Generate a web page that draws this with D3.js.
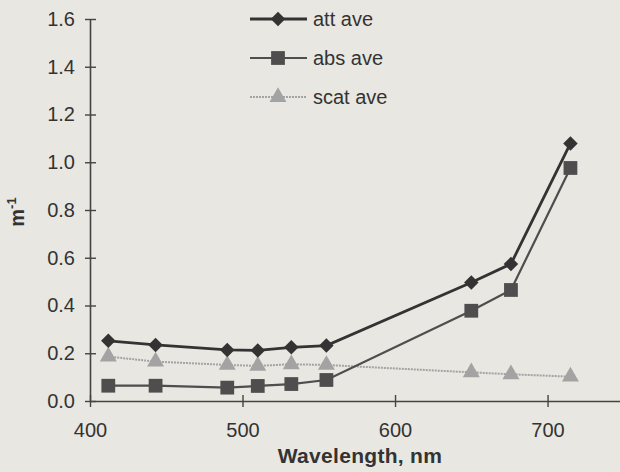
<!DOCTYPE html>
<html>
<head>
<meta charset="utf-8">
<script src="https://cdn.jsdelivr.net/npm/d3@7"></script>
<style>
  body { margin: 0; background: #e9e7e1; }
  svg { display: block; font-family: "Liberation Sans", Arial, sans-serif; }
</style>
</head>
<body>
<svg width="620" height="472"></svg>
<script>
// data
const wavelengths = [412, 443, 490, 510, 532, 555, 650, 676, 715];
const attAve  = [0.252, 0.235, 0.214, 0.212, 0.225, 0.232, 0.496, 0.574, 1.079];
const absAve  = [0.064, 0.064, 0.056, 0.063, 0.071, 0.088, 0.378, 0.465, 0.976];
const scatAve = [0.186, 0.165, 0.151, 0.147, 0.154, 0.151, 0.120, 0.112, 0.102];
const xTicks = [400, 500, 600, 700];
const yTicks = [0, 0.2, 0.4, 0.6, 0.8, 1.0, 1.2, 1.4, 1.6];

const series = [
  { name: "att ave",  values: attAve,  color: "#333333", stroke: 2.8, dash: null,  marker: "diamond" },
  { name: "abs ave",  values: absAve,  color: "#4f4d4d", stroke: 2.2, dash: null,  marker: "square" },
  { name: "scat ave", values: scatAve, color: "#a3a3a3", stroke: 2,   dash: "2,1", marker: "triangle" }
];

const svg = d3.select("svg");
const ink = "#333";

const x = d3.scaleLinear().domain([400, 747.5]).range([90, 620]);
const y = d3.scaleLinear().domain([0, 1.6]).range([401, 19]);

// axes
const xAxis = svg.append("g")
  .attr("transform", `translate(0,${y(0)})`)
  .call(d3.axisBottom(x).tickValues(xTicks).tickSizeInner(6).tickSizeOuter(0).tickPadding(16).tickFormat(d3.format("d")));
xAxis.selectAll(".tick line").attr("y1", -6);

const yAxis = svg.append("g")
  .attr("transform", `translate(${x(400)},0)`)
  .call(d3.axisLeft(y).tickValues(yTicks).tickSizeInner(5).tickSizeOuter(0).tickPadding(10).tickFormat(d3.format(".1f")));
yAxis.selectAll(".tick line").attr("x1", 6);

[xAxis, yAxis].forEach(a => {
  a.select(".domain").attr("stroke", "#444").attr("stroke-width", 1.6);
  a.selectAll(".tick line").attr("stroke", "#444").attr("stroke-width", 1.4);
  a.selectAll("text").attr("fill", ink).style("font-size", "20px");
});

// axis titles
svg.append("text")
  .attr("x", 360)
  .attr("y", 463)
  .attr("text-anchor", "middle")
  .attr("fill", ink)
  .style("font-size", "21px")
  .style("font-weight", "bold")
  .style("letter-spacing", "0.3px")
  .text("Wavelength, nm");

svg.append("text")
  .attr("transform", "translate(24,212) rotate(-90)")
  .attr("text-anchor", "middle")
  .attr("fill", ink)
  .style("font-size", "20px")
  .style("font-weight", "bold")
  .html("m<tspan dy='-8' style='font-size:13px'>-1</tspan>");

const symbolFor = {
  diamond: d3.symbol().type(d3.symbolSquare).size(105),
  square: d3.symbol().type(d3.symbolSquare).size(190),
  triangle: d3.symbol().type(d3.symbolTriangle).size(125)
};

function drawMarker(g, s, cx, cy) {
  const p = g.append("path")
    .attr("d", symbolFor[s.marker]())
    .attr("fill", s.color);
  if (s.marker === "diamond") p.attr("transform", `translate(${cx},${cy}) rotate(45)`);
  else p.attr("transform", `translate(${cx},${cy})`);
}

const line = d3.line().x(d => x(d[0])).y(d => y(d[1]));

// draw scat first so the solid lines sit on top
series.slice().reverse().forEach(s => {
  const pts = wavelengths.map((w, i) => [w, s.values[i]]);
  const g = svg.append("g");
  g.append("path")
    .datum(pts)
    .attr("fill", "none")
    .attr("stroke", s.color)
    .attr("stroke-width", s.stroke)
    .attr("stroke-dasharray", s.dash)
    .attr("d", line);
  pts.forEach(p => drawMarker(g, s, x(p[0]), y(p[1])));
});

// legend
const legend = svg.append("g");
series.forEach((s, i) => {
  const ly = 19 + i * 39;
  legend.append("line")
    .attr("x1", 250).attr("x2", 307)
    .attr("y1", ly).attr("y2", ly)
    .attr("stroke", s.color)
    .attr("stroke-width", s.stroke)
    .attr("stroke-dasharray", s.dash);
  drawMarker(legend, s, 278, ly);
  legend.append("text")
    .attr("x", 313)
    .attr("y", ly + 7)
    .attr("fill", ink)
    .style("font-size", "20px")
    .text(s.name);
});
</script>
</body>
</html>
